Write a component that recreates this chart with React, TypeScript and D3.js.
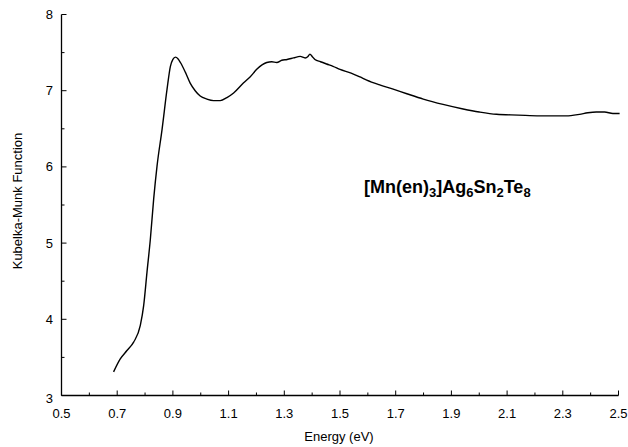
import React from "react";
import * as d3 from "d3";

const energy = [0.687, 0.711, 0.735, 0.759, 0.783, 0.795, 0.807, 0.819, 0.831, 0.843, 0.861, 0.879, 0.891, 0.900, 0.909, 0.918, 0.927, 0.945, 0.962, 0.980, 0.998, 1.022, 1.046, 1.070, 1.094, 1.118, 1.153, 1.177, 1.201, 1.220, 1.237, 1.255, 1.273, 1.291, 1.310, 1.333, 1.357, 1.375, 1.385, 1.392, 1.400, 1.410, 1.430, 1.452, 1.475, 1.500, 1.540, 1.572, 1.596, 1.640, 1.691, 1.740, 1.799, 1.870, 1.942, 2.000, 2.062, 2.140, 2.217, 2.270, 2.312, 2.360, 2.390, 2.420, 2.450, 2.480, 2.504];
const kmValues = [3.31, 3.48, 3.59, 3.70, 3.92, 4.18, 4.62, 5.05, 5.58, 6.01, 6.49, 7.02, 7.32, 7.41, 7.44, 7.42, 7.37, 7.24, 7.10, 7.00, 6.93, 6.89, 6.87, 6.87, 6.91, 6.97, 7.10, 7.18, 7.28, 7.34, 7.37, 7.38, 7.37, 7.40, 7.41, 7.43, 7.45, 7.43, 7.45, 7.48, 7.45, 7.41, 7.38, 7.35, 7.32, 7.28, 7.23, 7.18, 7.14, 7.08, 7.02, 6.96, 6.89, 6.82, 6.76, 6.72, 6.69, 6.68, 6.67, 6.67, 6.67, 6.69, 6.71, 6.72, 6.72, 6.70, 6.70];

const xTicks = [0.5, 0.7, 0.9, 1.1, 1.3, 1.5, 1.7, 1.9, 2.1, 2.3, 2.5];
const xMinor = [0.6, 0.8, 1.0, 1.2, 1.4, 1.6, 1.8, 2.0, 2.2, 2.4];
const yTicks = [3, 4, 5, 6, 7, 8];
const yMinor = [3.5, 4.5, 5.5, 6.5, 7.5];

const xTitle = "Energy (eV)";
const yTitle = "Kubelka-Munk Function";

export default function App() {
  const W = 628, H = 447;
  const x = d3.scaleLinear().domain([0.5, 2.5]).range([61.5, 618.5]);
  const y = d3.scaleLinear().domain([3, 8]).range([395.5, 14.5]);
  const pts = energy.map((e, i) => [e, kmValues[i]] as [number, number]);
  const line = d3.line<[number, number]>().x(d => x(d[0])).y(d => y(d[1])).curve(d3.curveMonotoneX);
  const font = "Arial, 'Liberation Sans', Helvetica, sans-serif";
  return (
    <svg width={W} height={H} style={{ position: "absolute", left: 0, top: 0, background: "#fff" }} fontFamily={font}>
      <rect width={W} height={H} fill="#fff" />
      <line x1={x(0.5)} x2={x(2.5)} y1={y(3)} y2={y(3)} stroke="#000" strokeWidth={1.3} />
      <line x1={x(0.5)} x2={x(0.5)} y1={y(3)} y2={y(8)} stroke="#000" strokeWidth={1.3} />
      {xTicks.map(t => (
        <g key={"xt" + t}>
          <line x1={x(t)} x2={x(t)} y1={y(3)} y2={y(3) - 5} stroke="#000" strokeWidth={1} />
          <text x={x(t)} y={418} fontSize={13} textAnchor="middle" fill="#000">{t.toFixed(1)}</text>
        </g>
      ))}
      {xMinor.map(t => (
        <line key={"xm" + t} x1={x(t)} x2={x(t)} y1={y(3)} y2={y(3) - 3} stroke="#000" strokeWidth={1} />
      ))}
      {yTicks.map(t => (
        <g key={"yt" + t}>
          <line x1={x(0.5)} x2={x(0.5) + 5} y1={y(t)} y2={y(t)} stroke="#000" strokeWidth={1} />
          <text x={53} y={y(t) + (t === 3 ? 7 : 4.5)} fontSize={13} textAnchor="end" fill="#000">{t}</text>
        </g>
      ))}
      {yMinor.map(t => (
        <line key={"ym" + t} x1={x(0.5)} x2={x(0.5) + 3} y1={y(t)} y2={y(t)} stroke="#000" strokeWidth={1} />
      ))}
      <path d={line(pts) || ""} fill="none" stroke="#000" strokeWidth={1.4} />
      <text x={339} y={441} fontSize={13} textAnchor="middle" fill="#000">{xTitle}</text>
      <text transform={`translate(22, 201) rotate(-90)`} fontSize={13} textAnchor="middle" fill="#000">{yTitle}</text>
      <text x={364} y={193} fontSize={18} fontWeight="bold" fill="#000">
        [Mn(en)<tspan fontSize={13} dy={4}>3</tspan><tspan dy={-4}>]Ag</tspan><tspan fontSize={13} dy={4}>6</tspan><tspan dy={-4}>Sn</tspan><tspan fontSize={13} dy={4}>2</tspan><tspan dy={-4}>Te</tspan><tspan fontSize={13} dy={4}>8</tspan>
      </text>
    </svg>
  );
}
